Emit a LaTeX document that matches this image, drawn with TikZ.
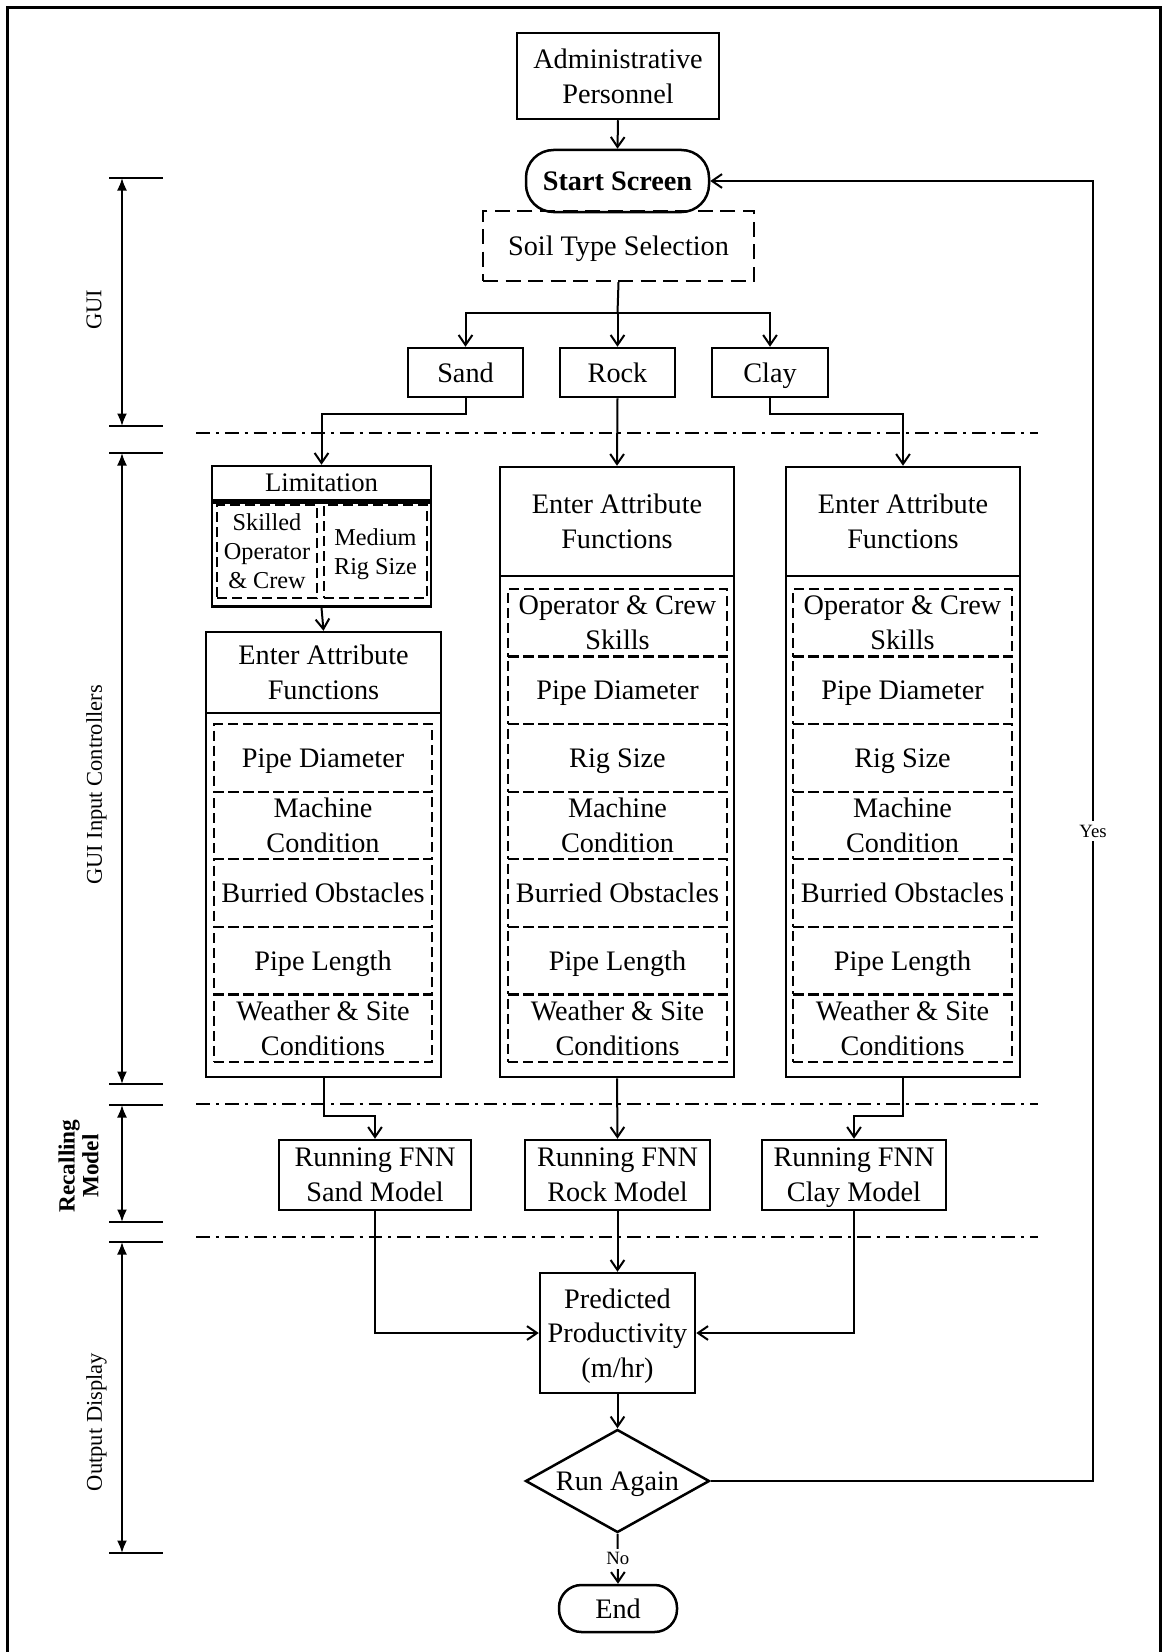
\documentclass[tikz,border=0pt]{standalone}
\usepackage{fontspec}
\setmainfont{Liberation Serif}
\usetikzlibrary{arrows.meta,shapes.geometric}
\begin{document}
\begin{tikzpicture}[x=0.4pt,y=-0.4pt,
  every node/.style={font=\fontsize{11.3}{13.9}\selectfont, inner sep=0pt, align=center, text depth=0pt},
  sz/.style 2 args={minimum width=#1*0.4pt, minimum height=#2*0.4pt},
  box/.style={draw, line width=1pt},
  dbox/.style={draw, line width=0.9pt, dash pattern=on 4pt off 2pt},
  flow/.style={line width=0.8pt, -{Straight Barb[length=4pt,width=5.5pt]}},
  link/.style={line width=0.8pt},
  sepline/.style={line width=1pt, dash pattern=on 5.5pt off 2.4pt on 1.2pt off 2.4pt},
  dim/.style={line width=0.8pt, {Latex[length=5pt,width=4pt]}-{Latex[length=5pt,width=4pt]}},
  tick/.style={line width=1pt},
  side/.style={rotate=90, font=\fontsize{9}{10.5}\selectfont},
  tag/.style={fill=white, font=\fontsize{7.5}{9}\selectfont, inner sep=1.5pt},
  small/.style={font=\fontsize{9.7}{11.6}\selectfont}
]
\useasboundingbox (0,0) rectangle (1162,1652);

% outer frame
\draw[line width=1.2pt] (7,1652) -- (7,8) -- (1160,8) -- (1160,1652);

% ---- top of the chart ----
\node[box, sz={202}{86}] (admin) at (618,76) {Administrative\\Personnel};
\node[box, rounded corners=11pt, sz={183}{62},
      font=\fontsize{11.3}{13.9}\selectfont\bfseries] (start) at (617.5,181) {Start Screen};
\node[draw, line width=0.9pt, dash pattern=on 6pt off 3pt, sz={271}{70}] (soil) at (618.5,246) {Soil Type Selection};
\node[box, sz={115}{49}] (sand) at (465.5,372.5) {Sand};
\node[box, sz={115}{49}] (rock) at (617.5,372.5) {Rock};
\node[box, sz={116}{49}] (clay) at (770,372.5) {Clay};

\draw[flow] (admin.south) -- (start.north);
\coordinate (fork) at (617.5,313);
\draw[link] (soil.south) -- (fork);
\draw[flow] (fork) -- (rock.north);
\draw[flow] (fork) -| (sand.north);
\draw[flow] (fork) -| (clay.north);

% ---- limitation block (sand) ----
\node[box, sz={219}{34}, font=\fontsize{10.7}{13}\selectfont] (limt) at (321.5,483) {Limitation};
\node[box, sz={219}{104}, anchor=north] (limb) at (limt.south) {};
\node[dbox, small, sz={100}{93}] (skill) at (267,551.5) {Skilled\\Operator\\\&~Crew};
\node[dbox, small, sz={103}{93}] (rigm) at (375.5,551.5) {Medium\\Rig Size};

% ---- attribute columns ----
\node[box, sz={235}{81}] (ltitle) at (323.5,672.5) {Enter Attribute\\Functions};
\node[box, sz={235}{364}] (lbody) at (323.5,895) {};
\node[box, sz={234}{109}] (mtitle) at (617,521.5) {Enter Attribute\\Functions};
\node[box, sz={234}{501}] (mbody) at (617,826.5) {};
\node[box, sz={234}{109}] (rtitle) at (903,521.5) {Enter Attribute\\Functions};
\node[box, sz={234}{501}] (rbody) at (903,826.5) {};

\foreach \t [count=\i] in {{Pipe Diameter},{Machine\\Condition},{Burried Obstacles},{Pipe Length},{Weather \& Site\\Conditions}}
  \node[dbox, sz={218}{67.57}] (lrow\i) at (323,{724.1+67.57*(\i-0.5)}) {\t};

\foreach \t [count=\i] in {{Operator \& Crew\\Skills},{Pipe Diameter},{Rig Size},{Machine\\Condition},{Burried Obstacles},{Pipe Length},{Weather \& Site\\Conditions}}{
  \node[dbox, sz={219}{67.57}] (mrow\i) at (617.5,{589+67.57*(\i-0.5)}) {\t};
  \node[dbox, sz={219}{67.57}] (rrow\i) at (902.5,{589+67.57*(\i-0.5)}) {\t};
}

\coordinate (lvl1) at (0,414);
\draw[flow] (sand.south) -- (sand.south |- lvl1) -| (limt.north);
\draw[flow] (rock.south) -- (mtitle.north);
\draw[flow] (clay.south) -- (clay.south |- lvl1) -| (rtitle.north);
\draw[flow] (limb.south) -- (ltitle.north);

% ---- models ----
\node[box, sz={192}{70}] (fsand) at (375,1175) {Running FNN\\Sand Model};
\node[box, sz={185}{70}] (frock) at (617.5,1175) {Running FNN\\Rock Model};
\node[box, sz={184}{70}] (fclay) at (854,1175) {Running FNN\\Clay Model};

\coordinate (lvl2) at (0,1116);
\draw[flow] (lbody.south) -- (lbody.south |- lvl2) -| (fsand.north);
\draw[flow] (mbody.south) -- (frock.north);
\draw[flow] (rbody.south) -- (rbody.south |- lvl2) -| (fclay.north);

% ---- output ----
\node[box, sz={155}{120}] (pred) at (617.5,1333) {Predicted\\Productivity\\(m/hr)};
\node[draw, line width=1pt, diamond, aspect=1.79, sz={184}{103}] (again) at (617.5,1481) {Run Again};
\node[box, rounded corners=9pt, sz={118}{47}] (stop) at (618,1608.5) {End};

\draw[flow] (fsand.south) |- (pred.west);
\draw[flow] (frock.south) -- (pred.north);
\draw[flow] (fclay.south) |- (pred.east);
\draw[flow] (pred.south) -- (again.north);
\draw[flow] (again.south) -- node[tag] (no) {No} (stop.north);

\coordinate (loopb) at (1093,1481);
\coordinate (loopt) at (1093,181);
\draw[flow] (again.east) -- (loopb) -- node[tag] (yes) {Yes} (loopt) -- (start.east);

% ---- section separators ----
\draw[sepline] (196,433) -- (1038,433);
\draw[sepline] (196,1104) -- (1038,1104);
\draw[sepline] (196,1237) -- (1038,1237);

% ---- section extents on the left ----
\foreach \y in {178,426,453,1084,1105,1222,1242,1553}
  \draw[tick] (109,\y) -- (163,\y);
\draw[dim] (122,178) -- (122,426);
\draw[dim] (122,453) -- (122,1084);
\draw[dim] (122,1105) -- (122,1222);
\draw[dim] (122,1242) -- (122,1553);

\node[side] (lgui) at (94,309.5) {GUI};
\node[side] (lctl) at (94,785) {GUI Input Controllers};
\node[side, font=\fontsize{9.3}{9.5}\selectfont\bfseries] (lrec) at (78.5,1166) {Recalling\\Model};
\node[side] (lout) at (94,1422) {Output Display};
\end{tikzpicture}
\end{document}
